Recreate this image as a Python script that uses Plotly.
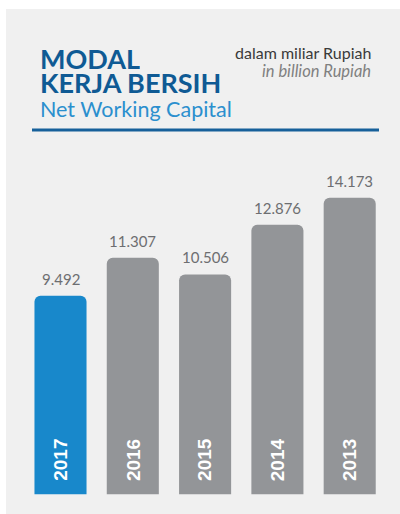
import plotly.graph_objects as go

# Net working capital, in billion Rupiah
years = ["2017", "2016", "2015", "2014", "2013"]
values = [9492, 11307, 10506, 12876, 14173]
bar_colors = ["#1888cb", "#939598", "#939598", "#939598", "#939598"]

W, H = 400, 514

def py(px):
    """Pixel offset from the top of the page -> paper y."""
    return 1 - px / H

def px_x(px):
    return px / W

labels = [f"{v:,}".replace(",", ".") for v in values]

fig = go.Figure(
    go.Bar(
        x=years,
        y=values,
        marker=dict(color=bar_colors, line=dict(width=0)),
        width=0.72,
        hoverinfo="skip",
    )
)

annotations = []
for i, (yr, v, t) in enumerate(zip(years, values, labels)):
    # value label above the bar
    annotations.append(dict(
        x=i, y=v, xref="x", yref="y", text=t, showarrow=False,
        xanchor="center", yanchor="bottom", yshift=6,
        font=dict(family="Lato", size=15, color="#6d6e71"),
    ))
    # year label written upwards at the foot of the bar
    annotations.append(dict(
        x=i, y=0, xref="x", yref="y", text=f"<b>{yr}</b>", showarrow=False,
        xanchor="center", yanchor="bottom", yshift=11, textangle=-90,
        font=dict(family="Liberation Sans, Arial", size=19, color="#ffffff"),
    ))

# heading block; the two capital lines are set tight, so their boxes are trimmed
annotations += [
    dict(x=px_x(38), y=py(58.5), xref="paper", yref="paper", text="<b>MODAL</b>",
         showarrow=False, xanchor="left", yanchor="middle", height=23,
         font=dict(family="Lato", size=27, color="#0f5a94")),
    dict(x=px_x(38), y=py(82.5), xref="paper", yref="paper", text="<b>KERJA BERSIH</b>",
         showarrow=False, xanchor="left", yanchor="middle", height=23,
         font=dict(family="Lato", size=27, color="#0f5a94")),
    dict(x=px_x(38), y=py(109), xref="paper", yref="paper", text="Net Working Capital",
         showarrow=False, xanchor="left", yanchor="middle",
         font=dict(family="Lato", size=21.5, color="#2b8fce")),
    dict(x=px_x(373), y=py(53), xref="paper", yref="paper", text="dalam miliar Rupiah",
         showarrow=False, xanchor="right", yanchor="middle",
         font=dict(family="Lato", size=16, color="#3a3a3a")),
    dict(x=px_x(373), y=py(71), xref="paper", yref="paper", text="<i>in billion Rupiah</i>",
         showarrow=False, xanchor="right", yanchor="middle",
         font=dict(family="Lato", size=16.5, color="#808080")),
]

shapes = [
    # light grey panel
    dict(type="rect", xref="paper", yref="paper", x0=px_x(6), x1=1, y0=0, y1=py(9),
         fillcolor="#f0f0f0", line=dict(width=0), layer="below"),
    # rule under the heading
    dict(type="line", xref="paper", yref="paper", x0=px_x(32), x1=px_x(379),
         y0=py(130), y1=py(130), line=dict(color="#16609a", width=3)),
]

# axis ranges chosen so the bars sit in the panel
pitch = 72.3
x0 = -60.5 / pitch
x1 = x0 + W / pitch
ppu = 20.93 / 1000  # pixels per billion
y0 = -(H - 494.3) / ppu
y1 = y0 + H / ppu

fig.update_layout(
    width=W, height=H,
    margin=dict(l=0, r=0, t=0, b=0),
    paper_bgcolor="#ffffff",
    plot_bgcolor="rgba(0,0,0,0)",
    barcornerradius=6,
    showlegend=False,
    xaxis=dict(type="category", range=[x0, x1], visible=False, fixedrange=True),
    yaxis=dict(range=[y0, y1], visible=False, fixedrange=True),
    annotations=annotations,
    shapes=shapes,
)

fig.write_html("out.html")
